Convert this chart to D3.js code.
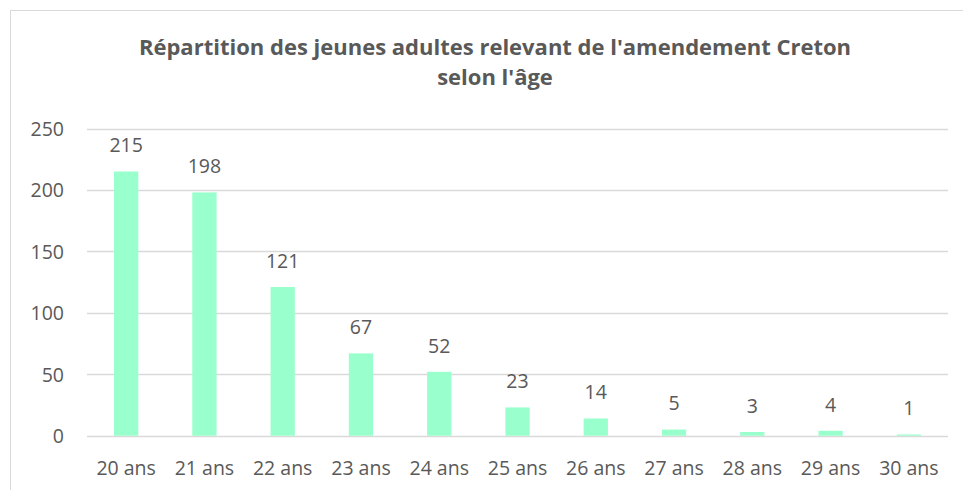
<!DOCTYPE html>
<html><head><meta charset="utf-8">
<script src="https://cdn.jsdelivr.net/npm/d3@7"></script>
<style>body{margin:0;background:#fff}svg{display:block}</style>
</head><body>
<svg id="c" width="963" height="490"></svg>
<script>
const categories = ["20 ans","21 ans","22 ans","23 ans","24 ans","25 ans","26 ans","27 ans","28 ans","29 ans","30 ans"];
const values = [215,198,121,67,52,23,14,5,3,4,1];
const yTicks = [0,50,100,150,200,250];
const titleLines = ["Répartition des jeunes adultes relevant de l'amendement Creton","selon l'âge"];

const svg = d3.select("#c");
const font = "'Open Sans', sans-serif";
const txt = "#595959";
svg.append("rect").attr("x",10.5).attr("y",10.5).attr("width",1000).attr("height",1000)
  .attr("fill","#fff").attr("stroke","#d9d9d9");

const L=87,R=948,T=128.5,B=435.7;
const x = d3.scaleBand().domain(categories).range([L,R]).paddingInner(0.69).paddingOuter(0.345);
const y = d3.scaleLinear().domain([0,250]).range([B,T]);

const g = svg.append("g");
g.selectAll(".grid").data(yTicks).join("line")
  .attr("x1",L).attr("x2",R).attr("y1",d=>Math.round(y(d))+0.5).attr("y2",d=>Math.round(y(d))+0.5)
  .attr("stroke","#d9d9d9").attr("stroke-width",1.5);

const yAxis = d3.axisLeft(y).tickValues(yTicks).tickSize(0).tickPadding(0);
const ya = svg.append("g").attr("transform",`translate(64,0)`).call(yAxis);
ya.select(".domain").remove();
ya.selectAll("text").attr("font-family",font).attr("font-size",19.5).attr("fill",txt).attr("dy","0.35em");

g.selectAll(".bar").data(values).join("rect")
  .attr("x",(d,i)=>x(categories[i])).attr("width",x.bandwidth())
  .attr("y",d=>y(d)).attr("height",d=>B-y(d)).attr("fill","#99ffcc");

g.selectAll(".lbl").data(values).join("text")
  .attr("x",(d,i)=>x(categories[i])+x.bandwidth()/2).attr("y",d=>y(d)-26)
  .attr("text-anchor","middle").attr("font-family",font).attr("font-size",19.5).attr("fill",txt)
  .attr("dy","0.35em").text(d=>d);

const xAxis = d3.axisBottom(x).tickSize(0).tickPadding(0);
const xa = svg.append("g").attr("transform",`translate(0,${B})`).call(xAxis);
xa.select(".domain").remove();
xa.selectAll("text").attr("font-family",font).attr("font-size",19.5).attr("fill",txt).attr("y",32).attr("dy","0.35em");

svg.selectAll(".title").data(titleLines).join("text")
  .attr("x",495).attr("y",(d,i)=>47+i*30).attr("dy","0.35em").attr("text-anchor","middle")
  .attr("font-family",font).attr("font-weight","bold").attr("font-size",22).attr("fill",txt).text(d=>d);
</script>
</body></html>
